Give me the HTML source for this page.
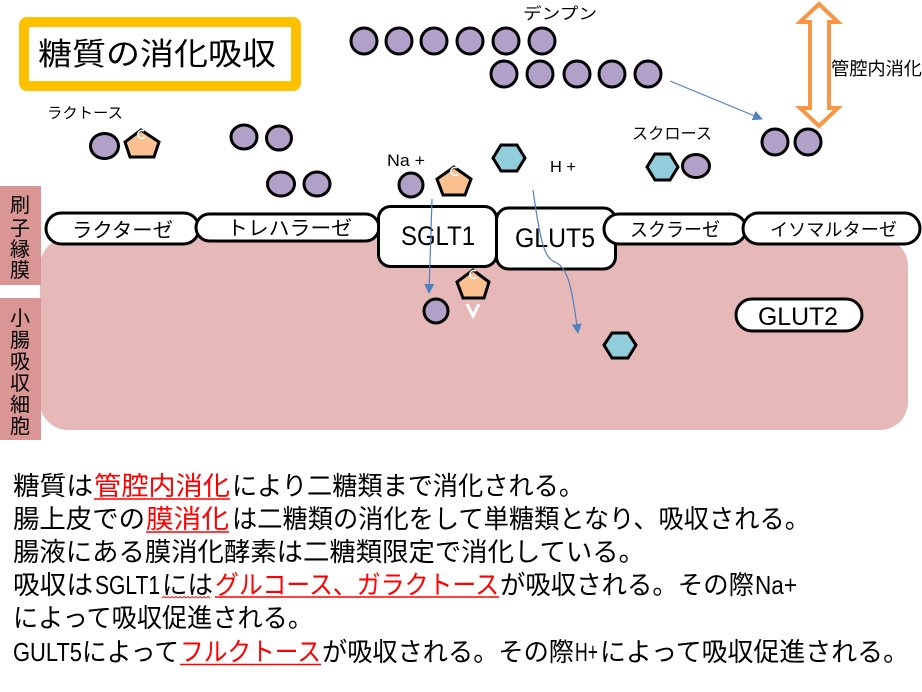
<!DOCTYPE html>
<html><head><meta charset="utf-8"><style>
html,body{margin:0;padding:0;background:#fff;}
svg{display:block;}
text{font-family:"Liberation Sans","Noto Sans CJK JP",sans-serif;}
</style></head><body>
<svg width="922" height="692" viewBox="0 0 922 692" xmlns="http://www.w3.org/2000/svg">
<defs>
<marker id="ah" markerWidth="10" markerHeight="10" refX="9" refY="5" orient="auto" markerUnits="userSpaceOnUse">
<path d="M0,0 L10,5 L0,10 z" fill="#4f81bd"/>
</marker>
</defs>
<rect width="922" height="692" fill="#fff"/>

<!-- cell -->
<rect x="40" y="238" width="868" height="192" rx="28" fill="#e6b8b7"/>
<!-- left labels -->
<rect x="0" y="186" width="41" height="99" fill="#d99694"/>
<rect x="0" y="298" width="41" height="142" fill="#d99694"/>
<g font-size="20" text-anchor="middle" fill="#000">
<text x="20" y="212">刷</text><text x="20" y="235">子</text><text x="20" y="256">縁</text><text x="20" y="277">膜</text>
<text x="20" y="325">小</text><text x="20" y="347">腸</text><text x="20" y="368.5">吸</text><text x="20" y="390">収</text><text x="20" y="411.5">細</text><text x="20" y="433">胞</text>
</g>

<!-- title -->
<rect x="24" y="22" width="272" height="64" rx="3" fill="#fff" stroke="#ffc000" stroke-width="10"/>
<text x="38" y="65" font-size="31" textLength="238" lengthAdjust="spacingAndGlyphs">糖質の消化吸収</text>

<!-- labels -->
<text x="523" y="19" font-size="16" textLength="74" lengthAdjust="spacingAndGlyphs">デンプン</text>
<text x="47" y="118" font-size="15" textLength="76" lengthAdjust="spacingAndGlyphs">ラクトース</text>
<text x="387" y="166" font-size="17" textLength="38" lengthAdjust="spacingAndGlyphs">Na +</text>
<text x="550" y="172" font-size="16" textLength="26" lengthAdjust="spacingAndGlyphs">H +</text>
<text x="632" y="139" font-size="16" textLength="80" lengthAdjust="spacingAndGlyphs">スクロース</text>
<text x="831" y="75" font-size="18" textLength="91" lengthAdjust="spacingAndGlyphs">管腔内消化</text>

<!-- orange double arrow -->
<polygon points="819,4 838,22 829,22 829,108 838,108 819,126 800,108 810,108 810,22 800,22" fill="#fff" stroke="#f79646" stroke-width="4" stroke-linejoin="miter"/>

<!-- circles -->
<g fill="#b1a0c7" stroke="#000" stroke-width="3">
<circle cx="364" cy="41" r="13"/><circle cx="399" cy="41" r="13"/><circle cx="434" cy="41" r="13"/>
<circle cx="470" cy="41" r="13"/><circle cx="506" cy="41" r="13"/><circle cx="542" cy="41" r="13"/>
<circle cx="504" cy="74" r="13"/><circle cx="540" cy="74" r="13"/><circle cx="577" cy="74" r="13"/>
<circle cx="612" cy="74" r="13"/><circle cx="648" cy="74" r="13"/>
<circle cx="775" cy="142" r="13"/><circle cx="808" cy="142" r="13"/>
<ellipse cx="104.5" cy="146" rx="14" ry="12.5"/>
<ellipse cx="244" cy="137" rx="13" ry="12"/><ellipse cx="279" cy="138" rx="12.5" ry="12"/>
<ellipse cx="281" cy="184" rx="13.5" ry="12"/><ellipse cx="317" cy="184" rx="13" ry="12"/>
<circle cx="411" cy="185" r="12"/>
<ellipse cx="696" cy="166" rx="13.5" ry="11.5"/>
<circle cx="436" cy="311" r="12"/>
</g>

<!-- pentagons -->
<g fill="#fac090" stroke="#000" stroke-width="3" stroke-linejoin="miter">
<polygon points="141,130 159,142 154,157 130,157 125,142"/>
<polygon points="454,167 471,179 465,195 443,195 437,179"/>
<polygon points="473,270 489,282 484,298 463,298 457,282"/>
</g>
<g fill="none" stroke="#fff" stroke-width="1.6">
<path d="M144,131 A4,4 0 1 0 145,137"/>
<path d="M457,168 A4,4 0 1 0 458,174"/>
<path d="M476,271 A4,4 0 1 0 477,277"/>
<polyline points="467,304 473,316 479,304" stroke-width="3"/>
</g>

<!-- hexagons -->
<g fill="#92cddc" stroke="#000" stroke-width="3" stroke-linejoin="miter">
<polygon points="493,158 501,145 517,145 525,158 517,171 501,171"/>
<polygon points="647,167 655,154 670,154 678,167 670,180 655,180"/>
<polygon points="604,345 612,333 628,333 636,345 628,358 612,358"/>
</g>

<!-- enzymes -->
<g stroke="#000" stroke-width="3" fill="#fff">
<rect x="46" y="213" width="153" height="31" rx="15.5"/>
<rect x="196" y="214" width="183" height="27" rx="13.5"/>
<rect x="378.5" y="206.5" width="118" height="60" rx="12"/>
<rect x="496.5" y="208" width="119" height="61" rx="12"/>
<rect x="604" y="214" width="142" height="30" rx="15"/>
<rect x="743" y="213" width="177" height="31" rx="15.5"/>
<rect x="736" y="299" width="126" height="32" rx="16"/>
</g>
<g fill="#000">
<text x="72" y="237" font-size="20" textLength="101" lengthAdjust="spacingAndGlyphs">ラクターゼ</text>
<text x="227" y="235" font-size="20" textLength="125" lengthAdjust="spacingAndGlyphs">トレハラーゼ</text>
<text x="401" y="245" font-size="27" textLength="74" lengthAdjust="spacingAndGlyphs">SGLT1</text>
<text x="515" y="247" font-size="27" textLength="80" lengthAdjust="spacingAndGlyphs">GLUT5</text>
<text x="630" y="236" font-size="19" textLength="90" lengthAdjust="spacingAndGlyphs">スクラーゼ</text>
<text x="770" y="236" font-size="18" textLength="127" lengthAdjust="spacingAndGlyphs">イソマルターゼ</text>
<text x="758" y="325" font-size="25" textLength="80" lengthAdjust="spacingAndGlyphs">GLUT2</text>
</g>

<!-- blue arrows -->
<g stroke="#4f81bd" stroke-width="1.2" fill="none">
<line x1="670" y1="81" x2="762" y2="119" marker-end="url(#ah)"/>
<line x1="432" y1="199" x2="429" y2="293" marker-end="url(#ah)"/>
<path d="M533,190 C540,240 544,258 555,262 C569,268 572,290 578,333" marker-end="url(#ah)"/>
</g>

<!-- bottom text -->
<g font-size="26" fill="#000">
<text x="13" y="495" textLength="80" lengthAdjust="spacingAndGlyphs">糖質は</text>
<text x="94" y="495" textLength="136" lengthAdjust="spacingAndGlyphs" fill="#ff0000">管腔内消化</text>
<text x="232" y="495" textLength="352" lengthAdjust="spacingAndGlyphs">により二糖類まで消化される。</text>

<text x="13" y="528" textLength="132" lengthAdjust="spacingAndGlyphs">腸上皮での</text>
<text x="146" y="528" textLength="83" lengthAdjust="spacingAndGlyphs" fill="#ff0000">膜消化</text>
<text x="232" y="528" textLength="578" lengthAdjust="spacingAndGlyphs">は二糖類の消化をして単糖類となり、吸収される。</text>

<text x="13" y="561" textLength="632" lengthAdjust="spacingAndGlyphs">腸液にある膜消化酵素は二糖類限定で消化している。</text>

<text x="13" y="594" textLength="80" lengthAdjust="spacingAndGlyphs">吸収は</text>
<text x="95" y="594" textLength="65" lengthAdjust="spacingAndGlyphs">SGLT1</text>
<text x="162" y="594" textLength="51" lengthAdjust="spacingAndGlyphs">には</text>
<text x="215" y="594" textLength="284" lengthAdjust="spacingAndGlyphs" fill="#ff0000">グルコース、ガラクトース</text>
<text x="500" y="594" textLength="254" lengthAdjust="spacingAndGlyphs">が吸収される。その際</text>
<text x="755" y="594" textLength="42" lengthAdjust="spacingAndGlyphs">Na+</text>

<text x="13" y="627" textLength="300" lengthAdjust="spacingAndGlyphs">によって吸収促進される。</text>

<text x="13" y="661" textLength="69" lengthAdjust="spacingAndGlyphs">GULT5</text>
<text x="82" y="661" textLength="97" lengthAdjust="spacingAndGlyphs">によって</text>
<text x="180" y="661" textLength="141" lengthAdjust="spacingAndGlyphs" fill="#ff0000">フルクトース</text>
<text x="322" y="661" textLength="252" lengthAdjust="spacingAndGlyphs">が吸収される。その際</text>
<text x="575" y="661" textLength="23" lengthAdjust="spacingAndGlyphs">H+</text>
<text x="600" y="661" textLength="309" lengthAdjust="spacingAndGlyphs">によって吸収促進される。</text>
</g>
<g stroke="#ff0000" stroke-width="1.5">
<line x1="94" y1="499" x2="230" y2="499"/>
<line x1="146" y1="532" x2="229" y2="532"/>
<line x1="215" y1="597" x2="499" y2="597"/>
<line x1="180" y1="664.5" x2="321" y2="664.5"/>
</g>
<path d="M162,598 l2,-1.5 l2,1.5 l2,-1.5 l2,1.5 l2,-1.5 l2,1.5 l2,-1.5 l2,1.5 l2,-1.5 l2,1.5 l2,-1.5 l2,1.5 l2,-1.5 l2,1.5 l2,-1.5 l2,1.5 l2,-1.5 l2,1.5 l2,-1.5 l2,1.5 l2,-1.5 l2,1.5 l2,-1.5 l2,1.5" fill="none" stroke="#ff0000" stroke-width="0.8"/>
</svg>
</body></html>
